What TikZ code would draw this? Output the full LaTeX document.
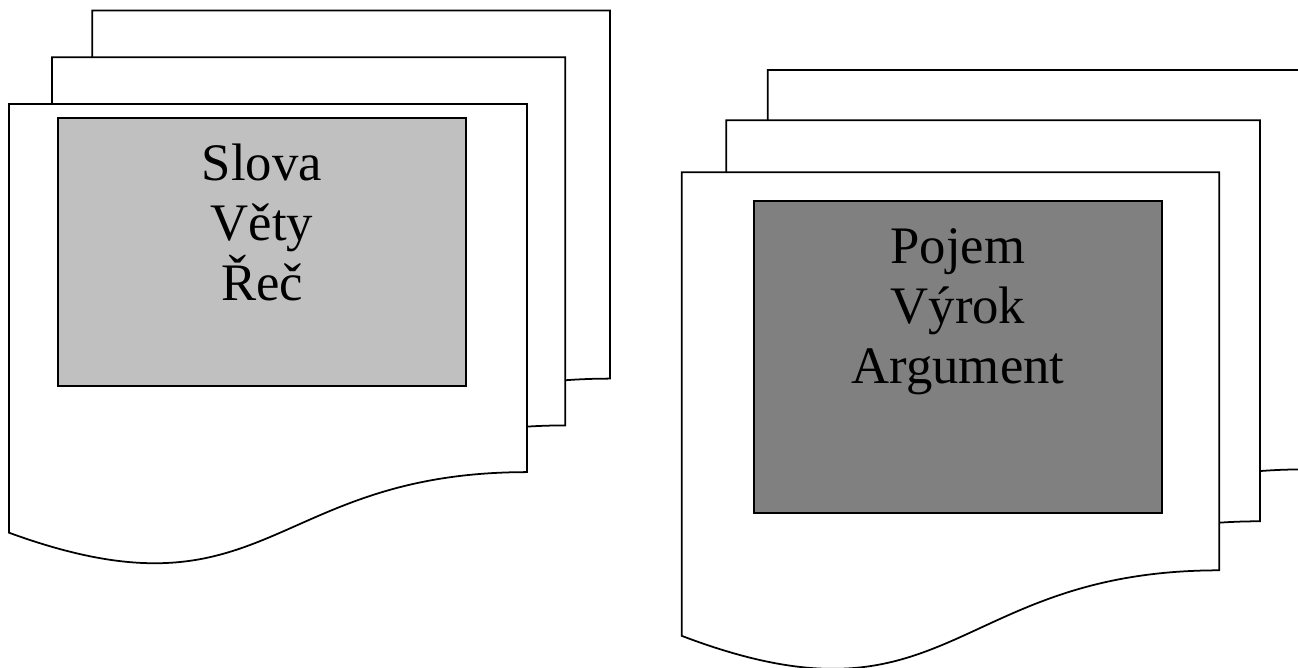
\documentclass[tikz,border=0pt]{standalone}
\usepackage{fontspec}
\setmainfont{Liberation Serif}
\definecolor{lightgrey}{HTML}{C0C0C0}
\definecolor{darkgrey}{HTML}{808080}
\tikzset{sheettext/.style={align=center,anchor=north,inner sep=0pt,font=\fontsize{30}{34.1}\selectfont}}
% one sheet: left, top, width, height
\newcommand{\docsheet}[4]{%
\filldraw[fill=white] (#1,#2) -- (#1+#3,#2) -- (#1+#3,#2+0.802*#4)
  .. controls (#1+0.5*#3,#2+0.802*#4) and (#1+0.5*#3,#2+1.14*#4) .. (#1,#2+0.934*#4) -- cycle;}
\begin{document}
\begin{tikzpicture}[x=0.02cm,y=-0.02cm,line width=1pt]
\useasboundingbox (0,0) rectangle (1298,668);
% left stack
\docsheet{92.3}{10.5}{517.7}{459}
\docsheet{52}{57.3}{513.3}{459}
\docsheet{9}{104}{518}{459}
\filldraw[fill=lightgrey] (58,118) rectangle (466,386);
\node[sheettext] (words) at (262,143) {Slova\\Věty\\Řeč};
% right stack
\docsheet{767.7}{70}{537}{498}
\docsheet{726.3}{120.3}{533.7}{500}
\docsheet{681.7}{172.3}{537.6}{496.3}
\filldraw[fill=darkgrey] (754,201.3) rectangle (1162,513.3);
\node[sheettext] (logic) at (958,227.7) {Pojem\\Výrok\\Argument};
\end{tikzpicture}
\end{document}
